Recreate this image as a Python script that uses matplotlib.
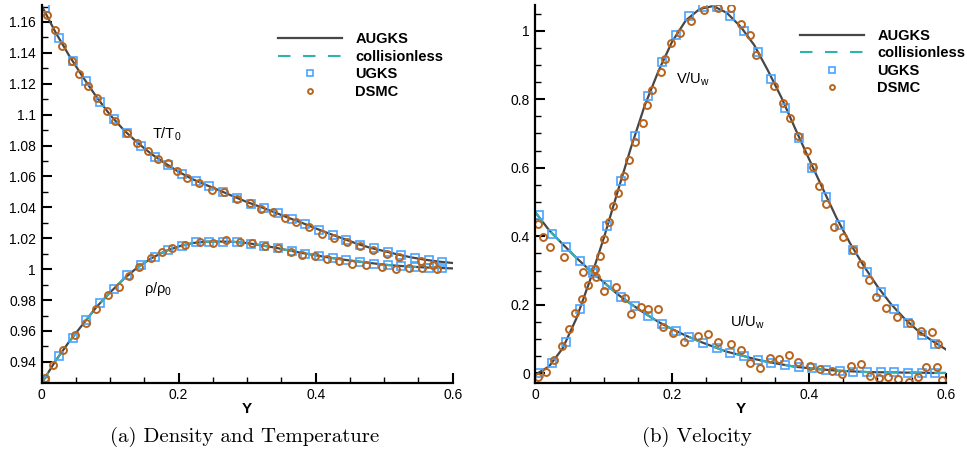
import matplotlib
matplotlib.use("Agg")
import matplotlib.pyplot as plt
from matplotlib.ticker import MultipleLocator, FuncFormatter

plt.rcParams['font.family'] = ['Liberation Sans', 'DejaVu Sans']
plt.rcParams['mathtext.fontset'] = 'custom'
plt.rcParams['mathtext.rm'] = 'Liberation Sans'
plt.rcParams['mathtext.default'] = 'regular'

# ---- data ----
# smooth solutions on a 0.02 grid
y_line = [0.00, 0.02, 0.04, 0.06, 0.08, 0.10, 0.12, 0.14, 0.16, 0.18, 0.20,
          0.22, 0.24, 0.26, 0.28, 0.30, 0.32, 0.34, 0.36, 0.38, 0.40,
          0.42, 0.44, 0.46, 0.48, 0.50, 0.52, 0.54, 0.56, 0.58, 0.60]
T_augks = [1.1705, 1.1535, 1.1383, 1.1245, 1.1115, 1.0998, 1.0900, 1.0818, 1.0746, 1.0686, 1.0630,
           1.0583, 1.0545, 1.0509, 1.0471, 1.0434, 1.0402, 1.0368, 1.0333, 1.0300, 1.0264,
           1.0230, 1.0198, 1.0165, 1.0138, 1.0117, 1.0095, 1.0076, 1.0061, 1.0049, 1.0040]
rho_augks = [0.9262, 0.9405, 0.9530, 0.9643, 0.9755, 0.9850, 0.9938, 1.0012, 1.0070, 1.0116, 1.0147,
             1.0169, 1.0178, 1.0179, 1.0177, 1.0169, 1.0155, 1.0140, 1.0122, 1.0105, 1.0090,
             1.0075, 1.0062, 1.0051, 1.0040, 1.0029, 1.0022, 1.0016, 1.0011, 1.0008, 1.0005]
U_augks = [0.470, 0.418, 0.377, 0.337, 0.300, 0.266, 0.231, 0.202, 0.175, 0.150, 0.129,
           0.110, 0.093, 0.078, 0.063, 0.053, 0.042, 0.033, 0.026, 0.019, 0.015,
           0.011, 0.008, 0.006, 0.004, 0.003, 0.003, 0.002, 0.002, 0.001, 0.001]
V_augks = [-0.004, 0.020, 0.073, 0.160, 0.272, 0.394, 0.528, 0.660, 0.782, 0.882, 0.968,
           1.030, 1.063, 1.072, 1.052, 1.012, 0.958, 0.884, 0.804, 0.714, 0.626,
           0.540, 0.455, 0.380, 0.314, 0.254, 0.202, 0.159, 0.123, 0.095, 0.070]
# collisionless curves visible on rho and U (they lie on the AUGKS curves)
rho_free = rho_augks
U_free = U_augks

# UGKS cell centres
y_ugks = [0.005, 0.025, 0.045, 0.065, 0.085, 0.105, 0.125, 0.145, 0.165, 0.185,
          0.205, 0.225, 0.245, 0.265, 0.285, 0.305, 0.325, 0.345, 0.365, 0.385,
          0.405, 0.425, 0.445, 0.465, 0.485, 0.505, 0.525, 0.545, 0.565, 0.585]
T_ugks = [1.1690, 1.1495, 1.1348, 1.1215, 1.1085, 1.0970, 1.0880, 1.0800, 1.0729, 1.0672,
          1.0616, 1.0573, 1.0536, 1.0500, 1.0462, 1.0425, 1.0393, 1.0361, 1.0324, 1.0292,
          1.0255, 1.0222, 1.0190, 1.0157, 1.0134, 1.0112, 1.0090, 1.0071, 1.0058, 1.0047]
rho_ugks = [0.9274, 0.9440, 0.9556, 0.9670, 0.9783, 0.9874, 0.9960, 1.0027, 1.0082, 1.0125,
            1.0151, 1.0173, 1.0179, 1.0177, 1.0177, 1.0166, 1.0151, 1.0136, 1.0118, 1.0101,
            1.0086, 1.0071, 1.0058, 1.0049, 1.0036, 1.0025, 1.0021, 1.0014, 1.0010, 1.0006]
U_ugks = [0.463, 0.407, 0.368, 0.327, 0.294, 0.257, 0.222, 0.195, 0.168, 0.143,
          0.124, 0.105, 0.088, 0.073, 0.060, 0.051, 0.039, 0.031, 0.024, 0.018,
          0.015, 0.010, 0.008, 0.005, 0.004, 0.003, 0.003, 0.002, 0.001, 0.001]
V_ugks = [0.002, 0.031, 0.0925, 0.187, 0.302, 0.429, 0.561, 0.692, 0.809, 0.909,
          0.988, 1.042, 1.068, 1.068, 1.042, 0.998, 0.9365, 0.860, 0.7755, 0.6877,
          0.600, 0.516, 0.434, 0.361, 0.2945, 0.237, 0.188, 0.146, 0.112, 0.0857]

# DSMC samples
y_dsmc_T = [0.008, 0.0194, 0.030, 0.0447, 0.0549, 0.0671, 0.0812, 0.0949, 0.107, 0.124,
            0.1387, 0.1557, 0.170, 0.184, 0.198, 0.2126, 0.230, 0.248, 0.2667, 0.2847,
            0.304, 0.3197, 0.338, 0.3552, 0.3712, 0.3905, 0.4097, 0.4272, 0.4453, 0.4647,
            0.4841, 0.5036, 0.5216, 0.5533, 0.5717]
T_dsmc = [1.1644, 1.1547, 1.1443, 1.1348, 1.1264, 1.1183, 1.1108, 1.1027, 1.0962, 1.0882,
          1.0818, 1.0764, 1.0715, 1.0688, 1.0636, 1.0590, 1.0560, 1.0512, 1.0497, 1.0454,
          1.0428, 1.0389, 1.0368, 1.0331, 1.0306, 1.0270, 1.0227, 1.0205, 1.0173, 1.0151,
          1.0125, 1.0101, 1.0082, 1.0053, 1.0030]
y_dsmc_rho = [0.0048, 0.017, 0.0315, 0.0486, 0.0642, 0.0793, 0.0964, 0.1133, 0.1275, 0.1425,
              0.159, 0.175, 0.190, 0.2095, 0.2314, 0.2494, 0.2689, 0.2895, 0.3066, 0.326,
              0.3454, 0.364, 0.3805, 0.399, 0.416, 0.4345, 0.4526, 0.473, 0.4973, 0.5168,
              0.5362, 0.5557, 0.5708, 0.5775]
rho_dsmc = [0.9296, 0.9378, 0.9480, 0.9575, 0.9653, 0.9744, 0.9830, 0.9884, 0.9956, 1.0014,
            1.0071, 1.0112, 1.0134, 1.0155, 1.0173, 1.0168, 1.0190, 1.0177, 1.0168, 1.0147,
            1.0134, 1.0114, 1.0090, 1.0086, 1.0064, 1.0050, 1.0032, 1.0025, 1.0017, 1.0002,
            1.0010, 1.0010, 1.0025, 1.0004]
y_dsmc_U = [0.0044, 0.0117, 0.0215, 0.042, 0.0703, 0.0889, 0.101, 0.1182, 0.1313, 0.1397,
            0.1548, 0.1646, 0.1792, 0.1865, 0.2012, 0.2167, 0.2372, 0.2518, 0.2665, 0.2861,
            0.3007, 0.3133, 0.328, 0.3436, 0.3558, 0.3704, 0.3836, 0.4022, 0.4168, 0.434,
            0.4486, 0.4618, 0.4764, 0.489, 0.5022, 0.5154, 0.5306, 0.5461, 0.5593, 0.5706,
            0.5867, 0.595]
U_dsmc = [0.436, 0.397, 0.368, 0.338, 0.297, 0.281, 0.239, 0.2505, 0.219, 0.174,
          0.193, 0.188, 0.188, 0.136, 0.119, 0.090, 0.109, 0.115, 0.090, 0.086,
          0.068, 0.031, 0.016, 0.044, 0.042, 0.052, 0.032, 0.022, 0.013, 0.008,
          -0.002, 0.022, 0.027, -0.008, -0.015, -0.010, -0.017, -0.026, -0.010, 0.018,
          0.019, -0.020]
y_dsmc_V = [0.0044, 0.0157, 0.0274, 0.0395, 0.0493, 0.0581, 0.0679, 0.0776, 0.0874, 0.0947,
            0.101, 0.1083, 0.1142, 0.1215, 0.1299, 0.1376, 0.145, 0.1567, 0.1631, 0.1713,
            0.1836, 0.1889, 0.1982, 0.2119, 0.2275, 0.246, 0.267, 0.2865, 0.3012, 0.3143,
            0.3227, 0.3485, 0.3616, 0.3729, 0.3836, 0.3974, 0.4056, 0.4144, 0.4252, 0.4373,
            0.4495, 0.4647, 0.4764, 0.4876, 0.4974, 0.512, 0.5281, 0.5471, 0.5632, 0.5793,
            0.5886]
V_dsmc = [-0.010, 0.004, 0.038, 0.080, 0.129, 0.176, 0.217, 0.258, 0.304, 0.341,
          0.392, 0.441, 0.488, 0.527, 0.575, 0.624, 0.676, 0.732, 0.782, 0.826,
          0.878, 0.917, 0.963, 0.993, 1.029, 1.060, 1.066, 1.065, 1.019, 0.987,
          0.930, 0.839, 0.788, 0.744, 0.692, 0.6485, 0.602, 0.546, 0.493, 0.427,
          0.397, 0.361, 0.318, 0.273, 0.224, 0.190, 0.165, 0.146, 0.124, 0.120,
          0.085]

c_line = '#474747'
c_free = '#2fb3ad'
c_ugks = '#4aa3ff'
c_dsmc = '#b8641c'

fig = plt.figure(figsize=(9.67, 4.54), dpi=100)
ax1 = fig.add_axes([0.0431, 0.157, 0.425, 0.832])
ax2 = fig.add_axes([0.5536, 0.157, 0.4244, 0.832])

sq = dict(ls='none', marker='s', ms=5.8, mfc='none', mec=c_ugks, mew=1.2)
ci = dict(ls='none', marker='o', ms=5.0, mfc='none', mec=c_dsmc, mew=1.4)

# left: density and temperature
ax1.plot(y_line, T_augks, color=c_line, lw=1.6, label='AUGKS')
ax1.plot(y_line, rho_augks, color=c_line, lw=1.6)
ax1.plot(y_line, rho_free, color=c_free, lw=1.5, dashes=(6, 6), label='collisionless')
ax1.plot(y_ugks, T_ugks, label='UGKS', **sq)
ax1.plot(y_ugks, rho_ugks, **sq)
ax1.plot(y_dsmc_T, T_dsmc, label='DSMC', **ci)
ax1.plot(y_dsmc_rho, rho_dsmc, **ci)
ax1.set_xlim(0, 0.6)
ax1.set_ylim(0.9265, 1.171)
ax1.yaxis.set_major_locator(MultipleLocator(0.02))
ax1.yaxis.set_minor_locator(MultipleLocator(0.01))
ax1.text(0.161, 1.0876, 'T/T$_0$', fontsize=10.5, va='center', ha='left')
ax1.text(0.150, 0.987, 'ρ/ρ$_0$', fontsize=10.5, va='center', ha='left')

# right: velocity
ax2.plot(y_line, V_augks, color=c_line, lw=1.6, label='AUGKS')
ax2.plot(y_line, U_augks, color=c_line, lw=1.6)
ax2.plot(y_line, U_free, color=c_free, lw=1.5, dashes=(6, 6), label='collisionless')
ax2.plot(y_ugks, V_ugks, label='UGKS', **sq)
ax2.plot(y_ugks, U_ugks, **sq)
ax2.plot(y_dsmc_V, V_dsmc, label='DSMC', **ci)
ax2.plot(y_dsmc_U, U_dsmc, **ci)
ax2.set_xlim(0, 0.6)
ax2.set_ylim(-0.0275, 1.075)
ax2.yaxis.set_major_locator(MultipleLocator(0.2))
ax2.yaxis.set_minor_locator(MultipleLocator(0.05))
ax2.text(0.205, 0.858, 'V/U$_w$', fontsize=10.5, va='center', ha='left')
ax2.text(0.284, 0.150, 'U/U$_w$', fontsize=10.5, va='center', ha='left')

fmt = FuncFormatter(lambda v, p: '%g' % round(v, 4))
for ax, anchor in ((ax1, (0.575, 0.928)), (ax2, (0.645, 0.937))):
    for s in ('top', 'right'):
        ax.spines[s].set_visible(False)
    for s in ('left', 'bottom'):
        ax.spines[s].set_linewidth(1.6)
    ax.xaxis.set_major_locator(MultipleLocator(0.2))
    ax.xaxis.set_minor_locator(MultipleLocator(0.05))
    ax.xaxis.set_major_formatter(fmt)
    ax.yaxis.set_major_formatter(fmt)
    ax.tick_params(which='major', direction='in', length=7, width=1.5, labelsize=10, pad=4)
    ax.tick_params(which='minor', direction='in', length=4, width=1.0)
    ax.set_xlabel('Y', fontsize=11, fontweight='bold', labelpad=0)
    ax.legend(loc='upper left', bbox_to_anchor=anchor, frameon=False, borderaxespad=0,
              borderpad=0, handlelength=4.4, handletextpad=0.9, labelspacing=0.24,
              markerscale=0.7, prop={'weight': 'bold', 'size': 10.5})

fig.text(0.253, 0.037, '(a) Density and Temperature', family='cmr10', fontsize=15,
         ha='center', va='center')
fig.text(0.721, 0.037, '(b) Velocity', family='cmr10', fontsize=15,
         ha='center', va='center')

fig.savefig('out.png', dpi=100)
